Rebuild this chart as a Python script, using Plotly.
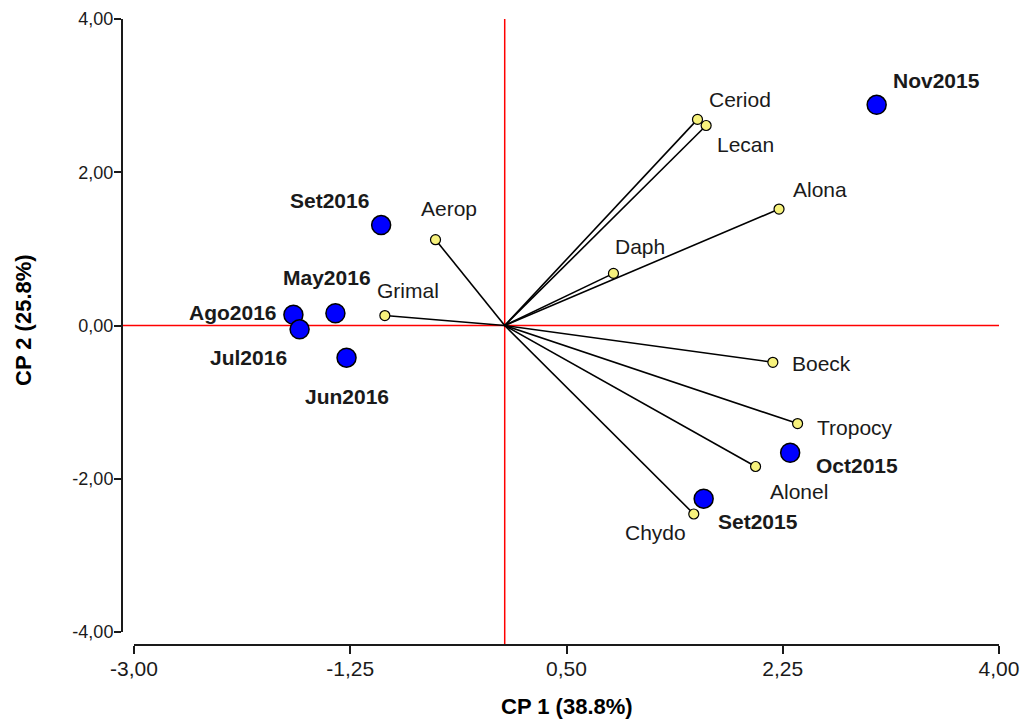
import plotly.graph_objects as go

# Sample scores (CP1, CP2)
sample_names = ["Nov2015", "Oct2015", "Set2015", "Set2016", "May2016", "Ago2016", "Jul2016", "Jun2016"]
sample_cp1 = [3.01, 2.31, 1.61, -1.00, -1.37, -1.71, -1.66, -1.28]
sample_cp2 = [2.88, -1.66, -2.26, 1.31, 0.16, 0.14, -0.05, -0.42]

# Taxa loadings (CP1, CP2)
taxa_names = ["Ceriod", "Lecan", "Alona", "Daph", "Aerop", "Grimal", "Boeck", "Tropocy", "Alonel", "Chydo"]
taxa_cp1 = [1.56, 1.63, 2.22, 0.88, -0.56, -0.97, 2.17, 2.37, 2.03, 1.53]
taxa_cp2 = [2.69, 2.61, 1.52, 0.68, 1.12, 0.13, -0.48, -1.28, -1.84, -2.46]

# Label offsets in pixels (dx, dy)
taxa_offsets = [(43, 20), (39, -19), (41, 20), (27, 27), (13, 31), (23, 25),
                (49, -1), (57, -4), (43, -25), (-38, -18)]
sample_offsets = [(60, 24), (67, -13), (54, -23), (-52, 25), (-8, 36), (-60, 2),
                  (-51, -28), (0, -39)]

x_ticks = [-3.0, -1.25, 0.5, 2.25, 4.0]
x_tick_text = ["-3,00", "-1,25", "0,50", "2,25", "4,00"]
y_ticks = [-4.0, -2.0, 0.0, 2.0, 4.0]
y_tick_text = ["-4,00", "-2,00", "0,00", "2,00", "4,00"]

W, H = 1031, 722
x_dom = [134 / W, 999 / W]
y_dom = [1 - 632 / H, 1 - 19 / H]
x_axis_pos = 1 - 645 / H
y_axis_pos = 122 / W

LABEL_FONT = "Liberation Sans, Arial"

fig = go.Figure()

# Reference lines through the origin
fig.add_shape(type="line", xref="x", yref="paper", x0=0, x1=0,
              y0=x_axis_pos, y1=y_dom[1], line=dict(color="red", width=1.5), layer="below")
fig.add_shape(type="line", xref="paper", yref="y", x0=y_axis_pos, x1=x_dom[1],
              y0=0, y1=0, line=dict(color="red", width=1.5), layer="below")

# Loading vectors
for xv, yv in zip(taxa_cp1, taxa_cp2):
    fig.add_trace(go.Scatter(x=[0, xv], y=[0, yv], mode="lines",
                             line=dict(color="black", width=1.6),
                             hoverinfo="skip", showlegend=False))

fig.add_trace(go.Scatter(x=taxa_cp1, y=taxa_cp2, mode="markers", text=taxa_names,
                         marker=dict(size=10, color="#f7f27c", line=dict(color="black", width=1.2)),
                         showlegend=False))

fig.add_trace(go.Scatter(x=sample_cp1, y=sample_cp2, mode="markers", text=sample_names,
                         marker=dict(size=19, color="#0000ff", line=dict(color="black", width=1.5)),
                         showlegend=False))

for name, xv, yv, (dx, dy) in zip(taxa_names, taxa_cp1, taxa_cp2, taxa_offsets):
    fig.add_annotation(x=xv, y=yv, text=name, showarrow=False, xshift=dx, yshift=dy,
                       font=dict(family=LABEL_FONT, size=21, color="#1a1a1a"))

for name, xv, yv, (dx, dy) in zip(sample_names, sample_cp1, sample_cp2, sample_offsets):
    fig.add_annotation(x=xv, y=yv, text="<b>" + name + "</b>", showarrow=False, xshift=dx, yshift=dy,
                       font=dict(family=LABEL_FONT, size=21, color="#1a1a1a"))

# Axis titles
fig.add_annotation(xref="paper", yref="paper", x=(x_dom[0] + x_dom[1]) / 2, y=1 - 706 / H,
                   xanchor="center", yanchor="middle",
                   text="<b>CP 1 (38.8%)</b>", showarrow=False,
                   font=dict(family=LABEL_FONT, size=22, color="black"))
fig.add_annotation(xref="paper", yref="paper", x=23 / W, y=1 - 320 / H,
                   xanchor="center", yanchor="middle",
                   text="<b>CP 2 (25.8%)</b>", showarrow=False, textangle=-90,
                   font=dict(family=LABEL_FONT, size=22, color="black"))

fig.update_layout(
    width=W, height=H,
    margin=dict(l=0, r=0, t=0, b=0, autoexpand=False),
    paper_bgcolor="white", plot_bgcolor="white",
    xaxis=dict(domain=x_dom, range=[-3, 4], anchor="free", position=x_axis_pos,
               automargin=False, ticklabelstandoff=-3,
               tickvals=x_ticks, ticktext=x_tick_text, showgrid=False, zeroline=False,
               showline=True, linecolor="#1a1a1a", linewidth=2,
               ticks="outside", ticklen=8, tickwidth=1.5, tickcolor="#1a1a1a",
               tickfont=dict(family=LABEL_FONT, size=21, color="#1a1a1a")),
    yaxis=dict(domain=y_dom, range=[-4, 4], anchor="free", position=y_axis_pos,
               automargin=False, ticklabelstandoff=-3,
               tickvals=y_ticks, ticktext=y_tick_text, showgrid=False, zeroline=False,
               showline=True, linecolor="#1a1a1a", linewidth=2,
               ticks="outside", ticklen=7, tickwidth=1.5, tickcolor="#1a1a1a",
               tickfont=dict(family=LABEL_FONT, size=18, color="#1a1a1a")),
)

fig.write_html("out.html")
